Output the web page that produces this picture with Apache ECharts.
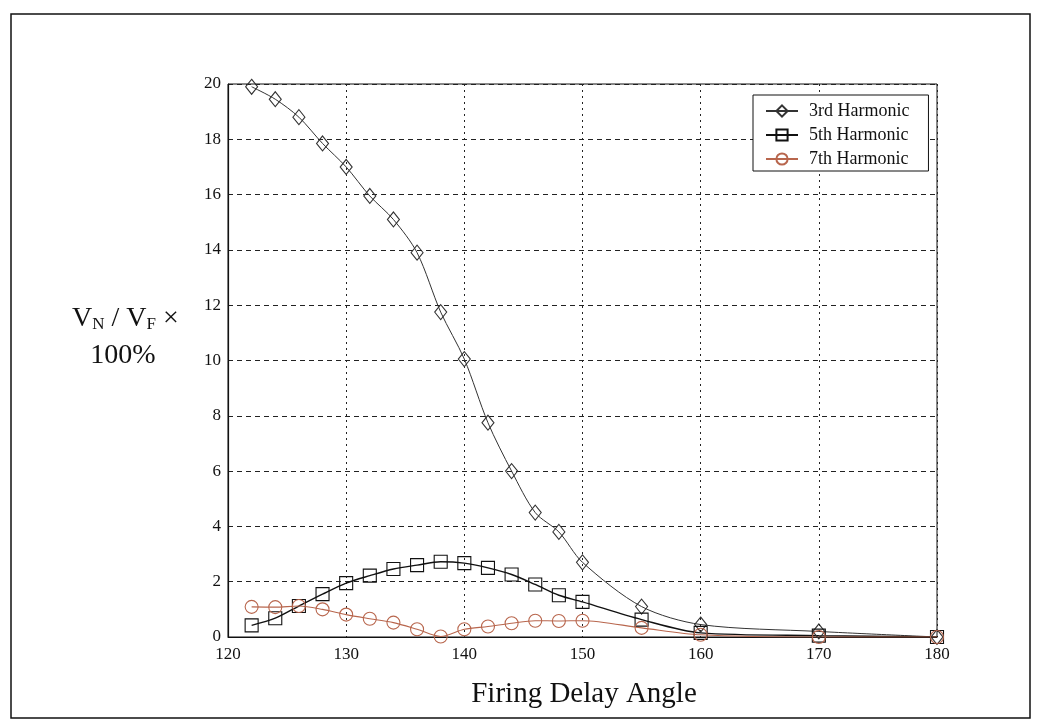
<!DOCTYPE html>
<html>
<head>
<meta charset="utf-8">
<script src="https://cdn.jsdelivr.net/npm/echarts@6/dist/echarts.min.js"></script>
<style>
  html, body { margin: 0; padding: 0; background: #fff; }
  #chart { width: 1039px; height: 727px; }
</style>
</head>
<body>
<div id="chart"></div>
<script>
// Firing delay angle (degrees)
const angles = [122, 124, 126, 128, 130, 132, 134, 136, 138, 140, 142, 144, 146, 148, 150, 155, 160, 170, 180];
// Harmonic voltage as a percentage of the fundamental
const harmonic3 = [19.9, 19.45, 18.8, 17.85, 17.0, 15.95, 15.1, 13.9, 11.75, 10.05, 7.75, 6.0, 4.5, 3.8, 2.7, 1.1, 0.45, 0.2, 0];
const harmonic5 = [0.42, 0.68, 1.12, 1.55, 1.95, 2.22, 2.46, 2.6, 2.72, 2.67, 2.5, 2.26, 1.9, 1.51, 1.27, 0.63, 0.15, 0.05, 0];
const harmonic7 = [1.09, 1.08, 1.12, 1.0, 0.81, 0.66, 0.52, 0.28, 0.02, 0.28, 0.38, 0.5, 0.59, 0.58, 0.59, 0.33, 0.08, 0.0, 0];
const seriesNames = ['3rd Harmonic', '5th Harmonic', '7th Harmonic'];

const serif = '"Liberation Serif", "DejaVu Serif", serif';

function pairs(ys) {
  return angles.map((x, i) => [x, ys[i]]);
}

function lineSeries(name, ys, symbol, size, color, width) {
  return {
    name: name,
    type: 'line',
    data: pairs(ys),
    smooth: 0.3,
    symbol: symbol,
    symbolSize: size,
    showAllSymbol: true,
    lineStyle: { color: color, width: width },
    itemStyle: { color: 'transparent', borderColor: color, borderWidth: 1.1 },
    emphasis: { disabled: true },
    z: 3
  };
}

const chart = echarts.init(document.getElementById('chart'), null, { renderer: 'canvas' });

chart.setOption({
  animation: false,
  backgroundColor: '#fff',
  grid: {
    left: 228, right: 102, top: 84, bottom: 90,
    show: true, borderColor: '#111', borderWidth: 1, backgroundColor: 'transparent'
  },
  xAxis: {
    type: 'value', min: 120, max: 180, interval: 10,
    axisLine: { show: true, lineStyle: { color: '#111', width: 1 } },
    axisTick: { show: false },
    axisLabel: { color: '#111', fontFamily: serif, fontSize: 17, margin: 9 },
    splitLine: { show: true, lineStyle: { color: '#222', type: [2, 4], width: 1 } }
  },
  yAxis: {
    type: 'value', min: 0, max: 20, interval: 2,
    axisLine: { show: true, lineStyle: { color: '#111', width: 1.2 } },
    axisTick: { show: false },
    axisLabel: { color: '#111', fontFamily: serif, fontSize: 17, margin: 7 },
    splitLine: { show: true, lineStyle: { color: '#222', type: [5, 4], width: 1 } }
  },
  legend: {
    orient: 'vertical', left: 753, top: 95,
    padding: [7, 19, 3, 12],
    itemGap: 6, itemWidth: 32, itemHeight: 14,
    backgroundColor: '#fff', borderColor: '#111', borderWidth: 1,
    textStyle: { color: '#111', fontFamily: serif, fontSize: 18, lineHeight: 17, padding: [0, 0, 0, 6] },
    data: seriesNames
  },
  series: [
    lineSeries(seriesNames[0], harmonic3, 'diamond', [12, 15], '#333', 1),
    lineSeries(seriesNames[1], harmonic5, 'rect', 13, '#111', 1.4),
    lineSeries(seriesNames[2], harmonic7, 'circle', 13, '#b8664d', 1.1)
  ],
  graphic: [
    // outer frame
    { type: 'rect', shape: { x: 11, y: 14, width: 1019, height: 704 },
      style: { fill: 'none', stroke: '#111', lineWidth: 1.5 }, silent: true },
    // y-axis title, first line with subscripts
    { type: 'text', left: 72, top: 305,
      style: {
        text: '{m|V}{s|N}{m| / V}{s|F}{m| ×}',
        rich: {
          m: { fontFamily: serif, fontSize: 28, fill: '#111', verticalAlign: 'bottom', lineHeight: 32 },
          s: { fontFamily: serif, fontSize: 17, fill: '#111', verticalAlign: 'bottom', lineHeight: 26 }
        }
      }
    },
    // y-axis title, second line
    { type: 'text', x: 123, y: 356,
      style: { text: '100%', fontFamily: serif, fontSize: 28, fill: '#111', align: 'center', verticalAlign: 'middle' } },
    // x-axis title
    { type: 'text', x: 584, y: 694,
      style: { text: 'Firing Delay Angle', fontFamily: serif, fontSize: 29, fill: '#111', align: 'center', verticalAlign: 'middle' } }
  ]
});
</script>
</body>
</html>
